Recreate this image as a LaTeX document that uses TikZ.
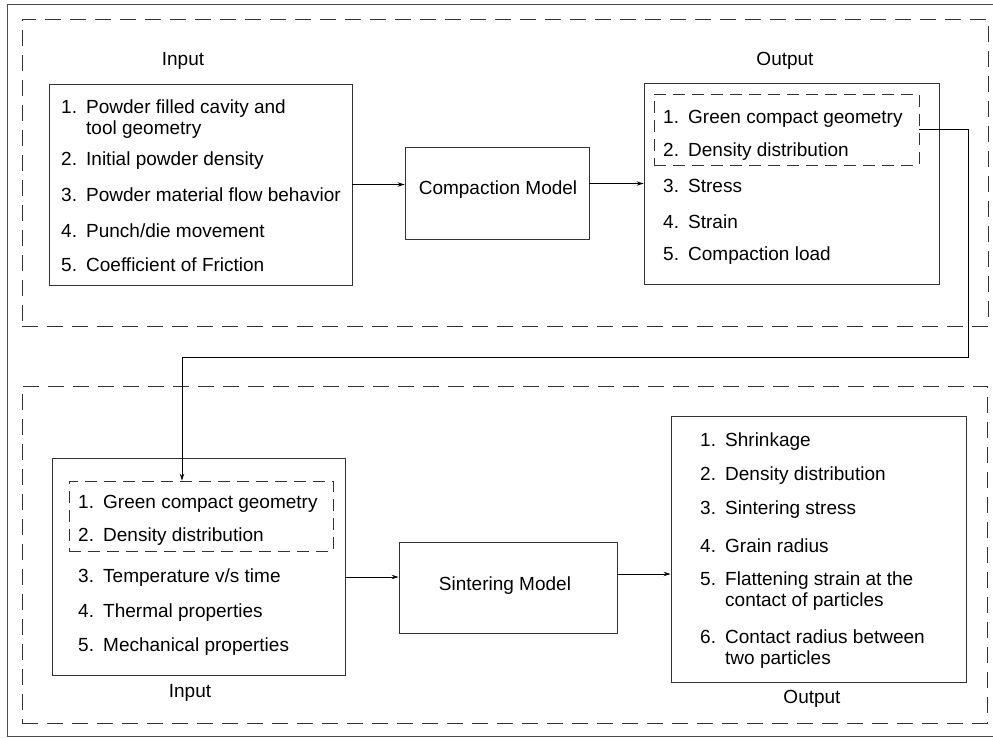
\documentclass[tikz,border=0pt]{standalone}
\usepackage{fontspec}
\setmainfont{Liberation Sans}
\usetikzlibrary{arrows.meta,calc}
\newcommand\nm[1]{\makebox[25pt][l]{#1}}
\begin{document}
\begin{tikzpicture}[x=1pt,y=-1pt,
  box/.style={draw=black!80, line width=0.9pt, inner sep=0pt, rectangle},
  gbox/.style={draw=black!80, line width=0.9pt, dash pattern=on 16pt off 9pt, inner sep=0pt, rectangle},
  ibox/.style={draw=black!80, line width=0.9pt, dash pattern=on 12pt off 7pt, inner sep=0pt, rectangle},
  txt/.style={font=\fontsize{19}{21}\selectfont, inner sep=0pt, anchor=west, align=left},
  lbl/.style={font=\fontsize{19}{21}\selectfont, inner sep=0pt},
  arr/.style={draw=black, line width=0.9pt, -{Stealth[length=7pt,width=4.5pt]}},
]
\useasboundingbox (0,0) rectangle (993,737);
\clip (0,0) rectangle (993,737);
% outer frame (its right side lies beyond the picture)
\draw[draw=black!70, line width=0.9pt] (1000,4) -- (7,4) -- (7,736) -- (1000,736);

% group frames
\node[gbox, minimum width=966pt, minimum height=307pt] (topgrp) at (505,172.5) {};
\node[gbox, minimum width=965pt, minimum height=337pt] (botgrp) at (504.5,554.5) {};

% ---------- top part ----------
\node[lbl] (tinlbl) at (183,61) {Input};
\node[box, minimum width=303pt, minimum height=201pt] (ti) at (200.5,184.5) {};
\node[txt] (ti1) at (61,119.5) {\nm{1.}Powder filled cavity and\\\hspace*{25pt}tool geometry};
\node[txt] (ti2) at (61,160.5) {\nm{2.}Initial powder density};
\node[txt] (ti3) at (61,194.5) {\nm{3.}Powder material flow behavior};
\node[txt] (ti4) at (61,230.5) {\nm{4.}Punch/die movement};
\node[txt] (ti5) at (61,264.5) {\nm{5.}Coefficient of Friction};

\node[box, minimum width=184pt, minimum height=92pt] (cm) at (497,193) {};
\node[lbl] (cmt) at (498,190) {Compaction Model};

\node[lbl] (toutlbl) at (785,61) {Output};
\node[box, minimum width=295pt, minimum height=201pt] (to) at (791.5,183.5) {};
\node[ibox, minimum width=265pt, minimum height=71pt] (tdash) at (786.5,129.5) {};
\node[txt] (to1) at (663,118.5) {\nm{1.}Green compact geometry};
\node[txt] (to2) at (663,151.5) {\nm{2.}Density distribution};
\node[txt] (to3) at (663,185.5) {\nm{3.}Stress};
\node[txt] (to4) at (663,221.5) {\nm{4.}Strain};
\node[txt] (to5) at (663,255.5) {\nm{5.}Compaction load};

\draw[arr] (ti.east) -- (ti.east -| cm.west);
\draw[arr] (cm.east |- to.west) -- (to.west);

% ---------- bottom part ----------
\node[box, minimum width=293pt, minimum height=217pt] (bi) at (198.5,566.5) {};
\node[ibox, minimum width=264pt, minimum height=70pt] (bdash) at (201,516) {};
\node[txt] (bi1) at (78,503.5) {\nm{1.}Green compact geometry};
\node[txt] (bi2) at (78,536.5) {\nm{2.}Density distribution};
\node[txt] (bi3) at (78,577.5) {\nm{3.}Temperature v/s time};
\node[txt] (bi4) at (78,612.5) {\nm{4.}Thermal properties};
\node[txt] (bi5) at (78,646.5) {\nm{5.}Mechanical properties};
\node[lbl] (binlbl) at (190,693) {Input};

\node[box, minimum width=218pt, minimum height=91pt] (sm) at (508,587.5) {};
\node[lbl] (smt) at (505,586) {Sintering Model};

\node[box, minimum width=295pt, minimum height=266pt] (bo) at (818.5,549) {};
\node[txt] (bo1) at (700,441.5) {\nm{1.}Shrinkage};
\node[txt] (bo2) at (700,475.5) {\nm{2.}Density distribution};
\node[txt] (bo3) at (700,509.5) {\nm{3.}Sintering stress};
\node[txt] (bo4) at (700,545.5) {\nm{4.}Grain radius};
\node[txt] (bo5) at (700,591.5) {\nm{5.}Flattening strain at the\\\hspace*{25pt}contact of particles};
\node[txt] (bo6) at (700,649) {\nm{6.}Contact radius between\\\hspace*{25pt}two particles};
\node[lbl] (boutlbl) at (812,699) {Output};

\coordinate (sa) at ([yshift=10.5pt]sm.west);
\coordinate (sb) at ([yshift=13.5pt]sm.east);
\draw[arr] (bi.east |- sa) -- (sa);
\draw[arr] (sb) -- (sb -| bo.west);

% ---------- link ----------
\coordinate (c1) at (968,357);
\coordinate (tip) at (182,0 |- bdash.north);
\draw[arr] (tdash.east) -| (c1) -| (tip);
\end{tikzpicture}
\end{document}
